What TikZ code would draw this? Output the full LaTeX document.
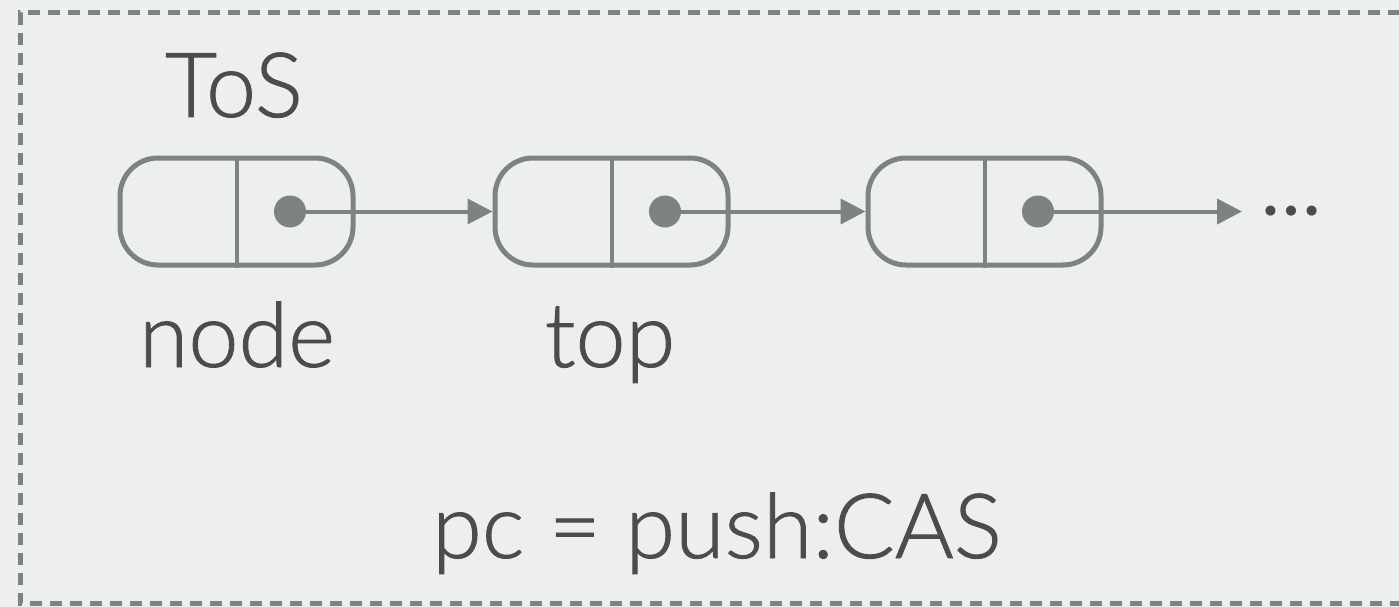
\documentclass[tikz,border=0pt]{standalone}
\usepackage{fontspec}
\setmainfont{Lato}[UprightFont={* Light}]
\newfontfamily\dotsfont{Lato}
\usetikzlibrary{arrows.meta}
\definecolor{bgc}{HTML}{EDEEF0}
\definecolor{linec}{HTML}{7D8380}
\definecolor{textc}{HTML}{4C4C4C}
\tikzset{
  cell/.style={draw=linec, line width=5pt, rounded corners=38pt, minimum width=233pt, minimum height=107pt, inner sep=0pt},
  divider/.style={draw=linec, line width=4pt},
  ptr/.style={circle, fill=linec, minimum size=32pt, inner sep=0pt},
  link/.style={draw=linec, line width=4pt, -{Triangle[length=25pt,width=25pt]}},
  label/.style={text=textc, font=\fontsize{90}{100}\selectfont\addfontfeature{FakeBold=1}, inner sep=0pt, anchor=base},
  frame/.style={draw=linec, line width=5pt, dash pattern=on 12pt off 8pt},
}
\begin{document}
\begin{tikzpicture}[x=1pt,y=-1pt]
\fill[bgc] (0,0) rectangle (1399,607);
\useasboundingbox (0,0) rectangle (1399,607);
\begin{scope}
\clip (0,0) rectangle (1399,607);
\draw[frame] (1420,13) -- (20,13) -- (20,603) -- (1420,603);
\end{scope}
% list cells
\node[cell] (n1) at (236.5,211.5) {};
\node[cell] (n2) at (611.5,211.5) {};
\node[cell] (n3) at (984.5,211.5) {};
\foreach \n in {n1,n2,n3} {
  \draw[divider] (\n.north) -- (\n.south);
}
\node[ptr] (p1) at ([xshift=53.5pt]n1.center) {};
\node[ptr] (p2) at ([xshift=53.5pt]n2.center) {};
\node[ptr] (p3) at ([xshift=53.5pt]n3.center) {};
\coordinate (tail) at (1242,211.5);
\draw[link] (p1.center) -- (n2.west);
\draw[link] (p2.center) -- (n3.west);
\draw[link] (p3.center) -- (tail);
\node[text=textc, font=\dotsfont\fontsize{80}{90}\selectfont, inner sep=0pt, anchor=base] (more) at (1291,215) {…};
% labels
\node[label] (tos) at (234,117) {ToS};
\node[label] (lnode) at (237,367) {node};
\node[label] (ltop) at (610,367) {top};
\node[label] (pc) at (717,558) {pc = push:CAS};
\end{tikzpicture}
\end{document}
